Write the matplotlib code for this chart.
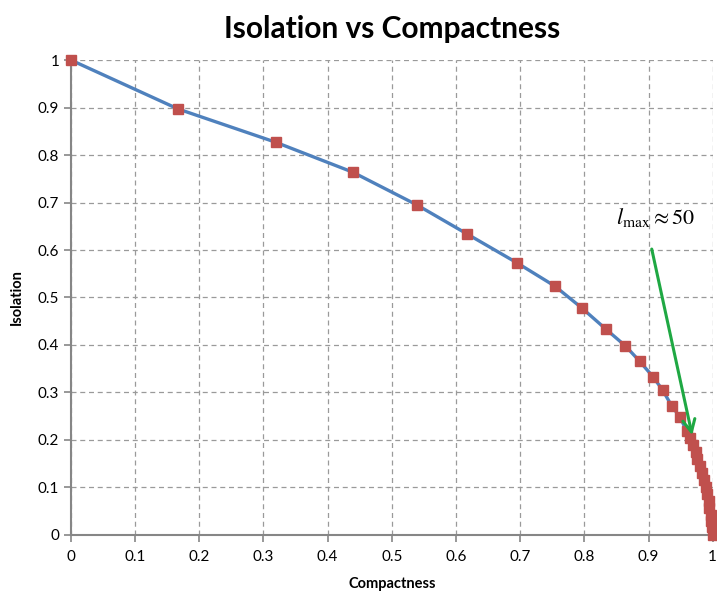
import matplotlib
matplotlib.use("Agg")
import matplotlib.pyplot as plt
import numpy as np

# values
compactness = [0.0, 0.167, 0.319, 0.439, 0.539, 0.617, 0.695, 0.754, 0.796, 0.833,
               0.864, 0.886, 0.907, 0.922, 0.936, 0.949, 0.9595, 0.964, 0.969, 0.9735,
               0.976, 0.980, 0.983, 0.986, 0.989, 0.991, 0.994, 0.995, 0.997, 0.998,
               0.999, 1.0]
isolation = [1.0, 0.897, 0.827, 0.764, 0.695, 0.634, 0.573, 0.524, 0.478, 0.434,
             0.398, 0.366, 0.333, 0.305, 0.272, 0.248, 0.219, 0.204, 0.189, 0.175,
             0.160, 0.145, 0.130, 0.116, 0.101, 0.086, 0.072, 0.057, 0.042, 0.029,
             0.017, 0.0]

arrow_start = (0.905, 0.602)
arrow_end = (0.968, 0.21)
label_pos = (0.85, 0.645)

plt.rcParams["font.family"] = ["Lato", "DejaVu Sans"]
plt.rcParams["mathtext.fontset"] = "stix"

fig = plt.figure(figsize=(7.17, 6.01), dpi=100)
ax = fig.add_axes([0.099, 0.110, 0.895, 0.790])

ax.plot(compactness, isolation, color="#4F81BD", linewidth=2.4, zorder=3,
        marker="s", markersize=6.5, markerfacecolor="#C0504D",
        markeredgecolor="#C0504D", clip_on=False)

ax.set_xlim(0, 1)
ax.set_ylim(0, 1)
ax.set_xticks(np.arange(0, 1.01, 0.1))
ax.set_yticks(np.arange(0, 1.01, 0.1))
ax.set_xticklabels(["0", "0.1", "0.2", "0.3", "0.4", "0.5", "0.6", "0.7", "0.8", "0.9", "1"])
ax.set_yticklabels(["0", "0.1", "0.2", "0.3", "0.4", "0.5", "0.6", "0.7", "0.8", "0.9", "1"])
ax.grid(True, linestyle=(0, (4, 3)), color="#9A9A9A", linewidth=0.9)
ax.set_axisbelow(True)

for side in ["top", "right"]:
    ax.spines[side].set_visible(False)
for side in ["left", "bottom"]:
    ax.spines[side].set_color("#868686")
    ax.spines[side].set_linewidth(1.5)
ax.tick_params(axis="both", colors="#868686", labelcolor="black", labelsize=11,
               length=5, width=1.2, direction="out")
ax.tick_params(axis="x", pad=6)

ax.set_title("Isolation vs Compactness", fontsize=21.5, fontweight="bold", pad=16)
ax.set_xlabel("Compactness", fontsize=10.5, fontweight="bold", labelpad=9)
ax.set_ylabel("Isolation", fontsize=10.5, fontweight="bold", labelpad=10)

ax.annotate("", xy=arrow_end, xytext=arrow_start,
            arrowprops=dict(arrowstyle="->", color="#1FA843", lw=2.2,
                            mutation_scale=22, shrinkA=0, shrinkB=0), zorder=4)
ax.text(label_pos[0], label_pos[1], r"$l_{\mathrm{max}} \approx 50$", fontsize=16,
        ha="left", va="bottom")

fig.savefig("out.png", dpi=100)
